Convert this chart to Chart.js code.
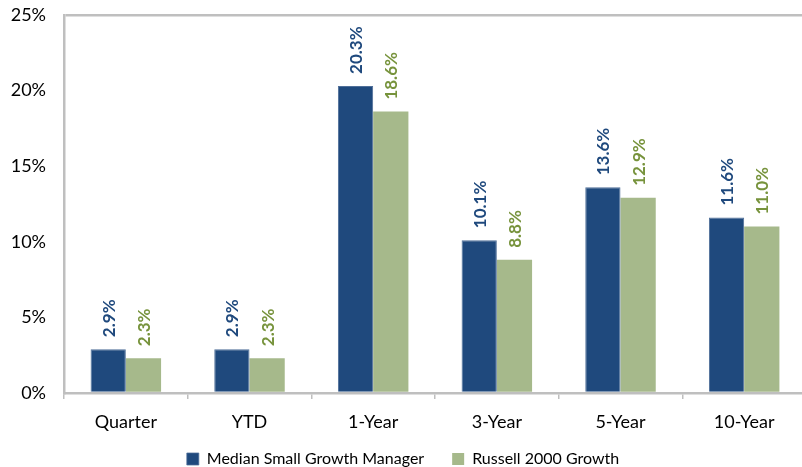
<!DOCTYPE html>
<html>
<head>
<meta charset="utf-8">
<script src="https://cdn.jsdelivr.net/npm/chart.js@4"></script>
<style>
html,body{margin:0;padding:0;background:#fff;overflow:hidden;}
#wrap{width:806px;height:467px;position:relative;}
canvas{display:block;}
</style>
</head>
<body>
<div id="wrap"><canvas id="c" width="806" height="467"></canvas></div>
<script>
const categories = ['Quarter', 'YTD', '1-Year', '3-Year', '5-Year', '10-Year'];
const seriesNames = ['Median Small Growth Manager', 'Russell 2000 Growth'];
const medianManager = [2.9, 2.9, 20.3, 10.1, 13.6, 11.6];
const russell2000Growth = [2.3, 2.3, 18.6, 8.8, 12.9, 11.0];
const yTicks = [0, 5, 10, 15, 20, 25];

const barColors = ['#1F497D', '#A6B98B'];
const labelColors = ['#1F497D', '#77933C'];
const FONT = 'Lato, "Open Sans", sans-serif';
const AXIS = '#BFBFBF';

const valueLabels = {
  id: 'valueLabels',
  afterDatasetsDraw(chart) {
    const ctx = chart.ctx;
    chart.data.datasets.forEach((ds, di) => {
      const meta = chart.getDatasetMeta(di);
      meta.data.forEach((bar, i) => {
        ctx.save();
        ctx.translate(bar.x, bar.y - 12);
        ctx.rotate(-Math.PI / 2);
        ctx.font = 'bold 17px ' + FONT;
        ctx.fillStyle = labelColors[di];
        ctx.textAlign = 'left';
        ctx.textBaseline = 'middle';
        ctx.fillText(ds.data[i].toFixed(1) + '%', 0, 1);
        ctx.restore();
      });
    });
  }
};

const legendShift = {
  id: 'legendShift',
  afterLayout(chart) {
    if (chart.legend) { chart.legend.top -= 10; chart.legend.bottom -= 10; }
  }
};

new Chart(document.getElementById('c'), {
  type: 'bar',
  data: {
    labels: categories,
    datasets: [
      { label: seriesNames[0], data: medianManager, backgroundColor: barColors[0], borderColor: '#4F6F99', borderWidth: {top:1,left:1,right:1,bottom:0}, categoryPercentage: 0.57, barPercentage: 1.0 },
      { label: seriesNames[1], data: russell2000Growth, backgroundColor: barColors[1], borderWidth: 0, categoryPercentage: 0.57, barPercentage: 1.0 }
    ]
  },
  options: {
    responsive: false,
    animation: false,
    devicePixelRatio: 1,
    layout: { padding: { top: 1, left: 0, right: 0, bottom: -20 } },
    plugins: {
      legend: {
        position: 'bottom',
        labels: {
          font: { family: FONT, size: 16 },
          color: '#000',
          boxWidth: 12,
          boxHeight: 12,
          padding: 28
        }
      },
      tooltip: { enabled: false }
    },
    scales: {
      x: {
        offset: true,
        grid: { offset: true, drawOnChartArea: false, drawTicks: true, tickLength: 6, color: AXIS, lineWidth: 1.5 },
        border: { color: AXIS, width: 2.5 },
        ticks: { font: { family: FONT, size: 18 }, color: '#000', padding: 12, maxRotation: 0, autoSkip: false },
        afterFit: s => { s.height = 40; }
      },
      y: {
        min: 0, max: 25,
        afterBuildTicks: s => { s.ticks = yTicks.map(v => ({ value: v })); },
        grid: {
          drawTicks: true,
          tickLength: 14,
          tickColor: 'rgba(0,0,0,0)',
          color: c => c.tick && c.tick.value === 25 ? AXIS : 'rgba(0,0,0,0)',
          lineWidth: 2.5
        },
        border: { color: AXIS, width: 2.5 },
        ticks: { font: { family: FONT, size: 18 }, color: '#000', padding: 4, callback: v => v + '%' },
        afterFit: s => { s.width = 64; }
      }
    }
  },
  plugins: [valueLabels, legendShift]
});
</script>
</body>
</html>
